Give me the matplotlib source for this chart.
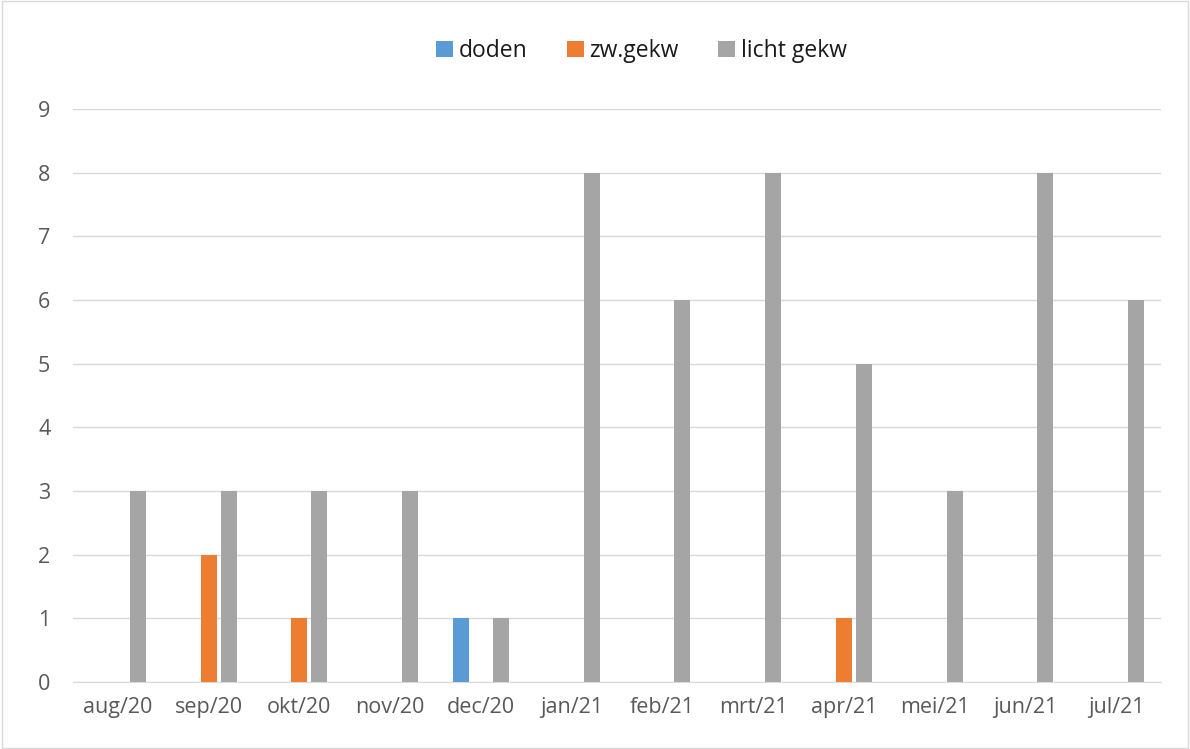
import matplotlib

matplotlib.use("Agg")
import matplotlib.pyplot as plt
import numpy as np
from matplotlib.patches import Rectangle

months = ["aug/20", "sep/20", "okt/20", "nov/20", "dec/20", "jan/21",
          "feb/21", "mrt/21", "apr/21", "mei/21", "jun/21", "jul/21"]
doden = [0, 0, 0, 0, 1, 0, 0, 0, 0, 0, 0, 0]
zw_gekw = [0, 2, 1, 0, 0, 0, 0, 0, 1, 0, 0, 0]
licht_gekw = [3, 3, 3, 3, 1, 8, 6, 8, 5, 3, 8, 6]

series = [("doden", doden, "#5B9BD5"),
          ("zw.gekw", zw_gekw, "#ED7D31"),
          ("licht gekw", licht_gekw, "#A5A5A5")]

plt.rcParams["font.family"] = ["Open Sans", "DejaVu Sans"]

fig = plt.figure(figsize=(11.9, 7.49), dpi=100)
ax = fig.add_axes([0.061, 0.0895, 0.915, 0.765])

x = np.arange(len(months))
w = 0.176
step = 0.22
for i, (name, vals, col) in enumerate(series):
    ax.bar(x + (i - 1) * step, vals, width=w, color=col, label=name, zorder=3)

ax.set_xlim(-0.5, len(months) - 0.5)
ax.set_ylim(0, 9)
ax.set_yticks(range(10))
ax.set_xticks(x)
ax.set_xticklabels(months)
ax.grid(axis="y", color="#D9D9D9", linewidth=1, zorder=0)
for s in ("top", "right", "left"):
    ax.spines[s].set_visible(False)
ax.spines["bottom"].set_color("#D9D9D9")
ax.tick_params(length=0, colors="#595959", labelsize=15.5)
ax.tick_params(axis="x", pad=11)
ax.tick_params(axis="y", pad=16)

fig.legend(loc="center", bbox_to_anchor=(0.539, 0.932), ncol=3, frameon=False,
           fontsize=16.5, handlelength=0.75, handleheight=0.75, handletextpad=0.25,
           columnspacing=1.7, labelcolor="#1A1A1A")

fig.patches.append(Rectangle((0.002, 0.002), 0.996, 0.996, transform=fig.transFigure,
                             fill=False, edgecolor="#D9D9D9", linewidth=1))

fig.savefig("out.png")
